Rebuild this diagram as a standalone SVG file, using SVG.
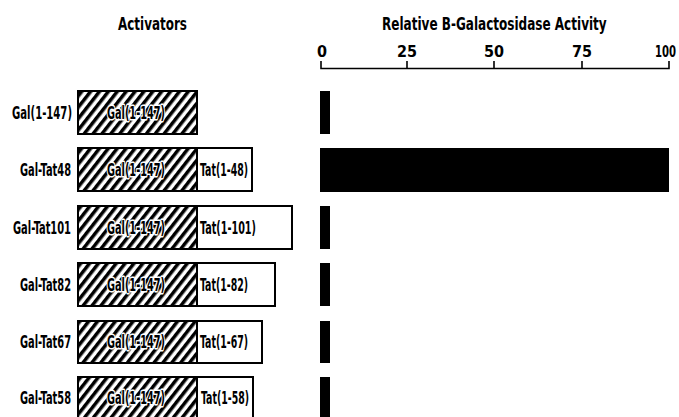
<svg xmlns="http://www.w3.org/2000/svg" width="679" height="417" viewBox="0 0 679 417">
<style>
text{font-family:"DejaVu Sans Condensed","DejaVu Sans","Liberation Sans",sans-serif;font-weight:bold;fill:#000;}
.h{font-size:18px;}
.lbl{font-size:18px;text-anchor:end;}
.in{font-size:18px;text-anchor:middle;paint-order:stroke;stroke:#fff;stroke-width:3px;stroke-linejoin:round;}
.tat{font-size:18px;}
.tick{font-size:16px;text-anchor:middle;}
.hat{fill:url(#hatch);stroke:#000;stroke-width:2;}
.wb{fill:#fff;stroke:#000;stroke-width:2;}
.bar{fill:#000;}
.ax{stroke:#000;stroke-width:1.6;fill:none;}
</style>
<defs>
<pattern id="hatch" patternUnits="userSpaceOnUse" width="7" height="7" patternTransform="rotate(38)">
<rect width="7" height="7" fill="#fff"/>
<rect width="3.5" height="7" fill="#000"/>
</pattern>
</defs>
<rect width="679" height="417" fill="#fff"/>
<text class="h" x="118" y="30" textLength="69" lengthAdjust="spacingAndGlyphs">Activators</text>
<text class="h" transform="translate(382,30) scale(0.7,1)" textLength="321" lengthAdjust="spacingAndGlyphs">Relative B-Galactosidase Activity</text>
<g id="axis">
<path class="ax" d="M321,61 V68.5 H669 V61 M407,68.5 V61 M494,68.5 V61 M582,68.5 V61"/>
<text class="tick" x="322" y="57">0</text>
<text class="tick" x="407" y="57">25</text>
<text class="tick" x="494" y="57">50</text>
<text class="tick" x="582" y="57">75</text>
<text class="tick" transform="translate(655,57) scale(0.75,1)" style="text-anchor:start" textLength="28" lengthAdjust="spacingAndGlyphs">100</text>
</g>
<g id="row-gal147">
<text class="lbl" x="72" y="119" textLength="60" lengthAdjust="spacingAndGlyphs">Gal(1-147)</text>
<rect class="hat" x="78" y="91" width="119" height="43"/>
<text class="in" x="136" y="119" textLength="58" lengthAdjust="spacingAndGlyphs">Gal(1-147)</text>
<rect class="bar" x="320" y="91" width="10" height="43"/>
</g>
<g id="row-tat48">
<text class="lbl" x="71" y="176" textLength="51" lengthAdjust="spacingAndGlyphs">Gal-Tat48</text>
<rect class="hat" x="78" y="148" width="119" height="43"/>
<rect class="wb" x="197" y="148" width="55" height="43"/>
<text class="in" x="136" y="176" textLength="58" lengthAdjust="spacingAndGlyphs">Gal(1-147)</text>
<text class="tat" x="200" y="176" textLength="48" lengthAdjust="spacingAndGlyphs">Tat(1-48)</text>
<rect class="bar" x="320" y="148" width="349" height="44"/>
</g>
<g id="row-tat101">
<text class="lbl" x="71" y="234" textLength="58" lengthAdjust="spacingAndGlyphs">Gal-Tat101</text>
<rect class="hat" x="78" y="206" width="119" height="43"/>
<rect class="wb" x="197" y="206" width="95" height="43"/>
<text class="in" x="136" y="234" textLength="58" lengthAdjust="spacingAndGlyphs">Gal(1-147)</text>
<text class="tat" x="200" y="234" textLength="56" lengthAdjust="spacingAndGlyphs">Tat(1-101)</text>
<rect class="bar" x="320" y="206" width="10" height="43"/>
</g>
<g id="row-tat82">
<text class="lbl" x="71" y="291" textLength="51" lengthAdjust="spacingAndGlyphs">Gal-Tat82</text>
<rect class="hat" x="78" y="263" width="119" height="43"/>
<rect class="wb" x="197" y="263" width="78" height="43"/>
<text class="in" x="136" y="291" textLength="58" lengthAdjust="spacingAndGlyphs">Gal(1-147)</text>
<text class="tat" x="200" y="291" textLength="48" lengthAdjust="spacingAndGlyphs">Tat(1-82)</text>
<rect class="bar" x="320" y="263" width="10" height="43"/>
</g>
<g id="row-tat67">
<text class="lbl" x="71" y="348" textLength="51" lengthAdjust="spacingAndGlyphs">Gal-Tat67</text>
<rect class="hat" x="78" y="321" width="119" height="42"/>
<rect class="wb" x="197" y="321" width="65" height="42"/>
<text class="in" x="136" y="348" textLength="58" lengthAdjust="spacingAndGlyphs">Gal(1-147)</text>
<text class="tat" x="200" y="348" textLength="48" lengthAdjust="spacingAndGlyphs">Tat(1-67)</text>
<rect class="bar" x="320" y="321" width="10" height="42"/>
</g>
<g id="row-tat58">
<text class="lbl" x="71" y="404" textLength="51" lengthAdjust="spacingAndGlyphs">Gal-Tat58</text>
<rect class="hat" x="78" y="377" width="119" height="43"/>
<rect class="wb" x="197" y="377" width="56" height="43"/>
<text class="in" x="136" y="404" textLength="58" lengthAdjust="spacingAndGlyphs">Gal(1-147)</text>
<text class="tat" x="201" y="404" textLength="48" lengthAdjust="spacingAndGlyphs">Tat(1-58)</text>
<rect class="bar" x="320" y="377" width="10" height="43"/>
</g>
</svg>
